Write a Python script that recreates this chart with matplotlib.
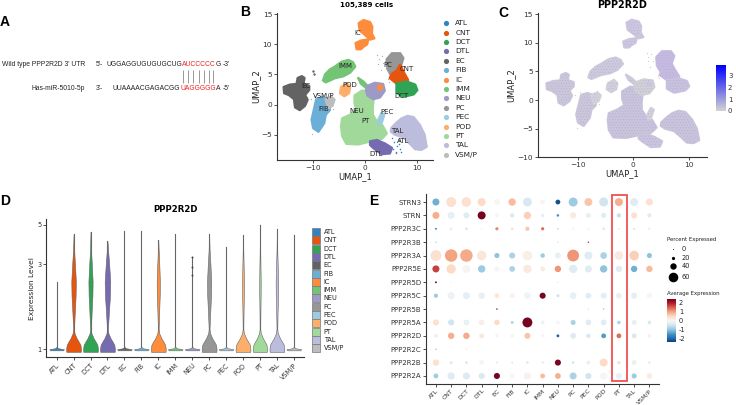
import numpy as np
import matplotlib
matplotlib.use("Agg")
import matplotlib.pyplot as plt
from matplotlib.colors import LinearSegmentedColormap
from matplotlib.patches import Rectangle

W, H = 736, 405
plt.rcParams['hatch.linewidth'] = .25

# Cell types and colours
cell_types = ['ATL', 'CNT', 'DCT', 'DTL', 'EC', 'FIB', 'IC', 'IMM', 'NEU', 'PC', 'PEC', 'POD', 'PT', 'TAL', 'VSM/P']
cell_colors = ['#3182bd', '#e6550d', '#31a354', '#756bb1', '#636363', '#6baed6', '#fd8d3c', '#74c476',
               '#9e9ac8', '#969696', '#9ecae1', '#fdae6b', '#a1d99b', '#bcbddc', '#bdbdbd']

# UMAP cluster outlines
umap_blobs = [
    ('IC', [(-1.2, 13.5), (-.3, 14), (.95, 13.7), (1.4, 12.9), (1.3, 11.8), (1.8, 11), (1, 10.8), (.1, 11.5), (-1, 12.3)]),
    ('IC', [(-1.8, 10.2), (-.8, 10.6), (.6, 10.8), (.4, 10), (-.3, 9.6), (-.8, 9.2), (-1.6, 9.2)]),
    ('EC', [(-15.7, 2.9), (-14.5, 3.3), (-13.2, 3.4), (-13, 4.4), (-12.2, 4.7), (-11.7, 4.4), (-11.9, 3.5), (-10.8, 3.1), (-10.8, 2.4),
            (-11.6, 1.6), (-11.1, .8), (-11.6, -.2), (-12.6, -.9), (-13.5, -.45), (-13.7, .9), (-14.7, 1.6), (-15.6, 1.9)]),
    ('FIB', [(-9.4, .9), (-8.3, 1.2), (-7, .8), (-6.8, -.9), (-7.6, -1.7), (-7.9, -3.1), (-9, -4.5), (-10, -3.9), (-10.3, -2.5), (-9.8, -.6)]),
    ('VSM/P', [(-7.6, .9), (-6.5, 1.3), (-5.9, .8), (-6.3, -.2), (-7.1, -.6), (-7.4, .2)]),
    ('IMM', [(-8.1, 4), (-7.7, 5), (-6.8, 5.8), (-5.8, 6.3), (-4.5, 7.1), (-3.2, 7.4), (-2.3, 7), (-1.9, 6.3), (-2.9, 5.3), (-4.2, 4.7),
             (-5.8, 4.4), (-6.8, 4), (-7.6, 3.7)]),
    ('IMM', [(-1.3, 4.4), (-.3, 3.8), (.6, 3), (.3, 2.7), (-.8, 3.5)]),
    ('POD', [(-4.6, 2.9), (-3.5, 3.5), (-2.9, 2.9), (-3.1, 1.9), (-4, 1.4), (-4.8, 1.9)]),
    ('PT', [(-2, 1.5), (-.6, 2.3), (1, 2.2), (1.7, 1.2), (1.5, -.3), (1.5, -1.7), (2.2, -2.7), (3.4, -3.5), (4.2, -4.8), (3.2, -5.7),
            (1.6, -5.9), (.6, -6.2), (-1.3, -6.6), (-3.6, -6.5), (-4.4, -5.2), (-4.6, -3.5), (-4.4, -2.3), (-2.9, -1.7), (-1.6, -.9), (-2, .2)]),
    ('NEU', [(.5, 3.1), (1.9, 3.6), (3.5, 3.4), (3.8, 2.3), (2.9, 1.2), (1.6, .9), (.5, 1.5), (.2, 2.4)]),
    ('IC', [(2.5, 3.2), (3, 3.2), (3, 2.6), (2.5, 2.6)]),
    ('PC', [(4.2, 7.5), (5.2, 8.5), (6.8, 8.5), (7.4, 7.7), (7, 6.6), (6.5, 4.9), (5, 4.9), (4.3, 6)]),
    ('CNT', [(6.8, 6.6), (7.4, 5.5), (8.3, 4.1), (8.1, 3.5), (6.1, 3.5), (4.8, 4.4), (5.2, 5.1), (6.1, 5.6)]),
    ('DCT', [(6.1, 3.5), (8.1, 3.8), (9.7, 3.3), (10.1, 2.4), (9.4, 1.7), (7.4, 1.3), (6.1, 2)]),
    ('PEC', [(2.6, -2.5), (3.2, -1.4), (3.7, -1.7), (3.2, -3.1), (2.7, -3.4)]),
    ('TAL', [(5.1, -3.9), (6.1, -3), (7.1, -2.3), (8.2, -1.9), (9.4, -2.1), (10.6, -3.4), (11.5, -5), (11.9, -7), (10.9, -7.5), (9.7, -7.4),
             (8.7, -6.5), (7.4, -5.4), (5.8, -5), (5, -4.5)]),
    ('DTL', [(1, -6.1), (2.3, -5.9), (3.9, -6.5), (5.2, -7.2), (4.8, -8.1), (3.2, -8.2), (1.6, -7.2), (1, -6.7)]),
]
atl_x = [5.5, 5.9, 6.8, 6, 5.6, 6.5, 6.2, 5.2, 7, 6.6]
atl_y = [-7.3, -7.9, -7.3, -8, -6.2, -5.8, -6.8, -5.5, -7.8, -6.6]
stray_x = [2.4, 2.7, 3.2, 3.5, 3.9, 4.1, 2.6, 3.1, 4.4, 4.7, -9.6, -9.9, -10.5, -10.2, -6.5, -6.2]
stray_y = [8.3, 7.6, 8, 6.9, 7.2, 6.2, 6.8, 5.8, 4.2, 3.8, 1.4, .3, .9, -4.9, 1.6, -.7]
label_x = [7.3, 8.1, 7, 2.1, -11.5, -7.9, -1.4, -3.7, -1.5, 4.4, 4.3, -2.9, .05, 6.3, -7.9]
label_y = [-6.1, 5.9, 1.5, -8.2, 3, -.7, 11.8, 6.4, -1, 6.5, -1.3, 3.3, -2.7, -4.4, 1.4]

# Panel C shade by cluster
feature_colors = {'IC': '#cdc7de', 'EC': '#cbc7d9', 'FIB': '#cbc7d9', 'VSM/P': '#d4d2d9', 'IMM': '#cdcadb', 'POD': '#d2d0d9',
                  'PT': '#c9c4da', 'NEU': '#d1d0d4', 'PC': '#c4bbde', 'CNT': '#c4bbde', 'DCT': '#c9c2dc', 'PEC': '#d2d0d9',
                  'TAL': '#c9c4da', 'DTL': '#cac4dc'}

# Violin panel
violin_tops = [2.38, 4.42, 4.57, 4.05, 4.63, 4.58, 4.1, 4.45, 3.3, 4.45, 3.75, 4.38, 5.0, 4.75, 4.4]
violin_base = [.43, .44, .44, .44, .43, .43, .44, .43, .43, .44, .43, .44, .42, .44, .43]
violin_body = [0, .13, .12, .16, 0, 0, .09, 0, 0, .12, 0, .05, .04, .07, 0]
wide_levels = [.965, 1.0, 1.058, 1.1, 1.15, 1.23, 1.3, 1.6, 2.0, 2.4, 3.0, 3.6]
wide_base = [.97, 1.0, .92, .7, .42, .12, .03, .01, .01, .01, .01, .01]
wide_body = [0, 0, 0, 0, 0, 0, .08, .5, .9, 1.0, .6, .2]
flat_levels = [.985, 1.0, 1.012, 1.03]
flat_base = [.9, 1.0, .2, .02]
neu_dots = [3.3, 2.9, 2.6]

# Dot plot panel
dot_genes = ['STRN3', 'STRN', 'PPP2R3C', 'PPP2R3B', 'PPP2R3A', 'PPP2R5E', 'PPP2R5D', 'PPP2R5C', 'PPP2R5B', 'PPP2R5A',
             'PPP2R2D', 'PPP2R2C', 'PPP2R2B', 'PPP2R2A']
dot_pct = [
    [44, 62, 60, 50, 36, 46, 56, 30, 30, 56, 50, 56, 50, 50, 44],
    [44, 44, 38, 50, 25, 26, 46, 22, 16, 40, 32, 32, 26, 38, 26],
    [12, 18, 18, 12, 20, 15, 26, 20, 12, 16, 12, 18, 12, 14, 14],
    [8, 8, 5, 5, 4, 4, 4, 4, 5, 4, 9, 5, 8, 4, 4],
    [68, 78, 78, 60, 32, 38, 60, 28, 38, 74, 50, 42, 54, 60, 32],
    [44, 58, 50, 46, 32, 36, 52, 30, 40, 52, 44, 46, 40, 40, 40],
    [12, 8, 8, 5, 4, 5, 5, 4, 5, 5, 4, 5, 5, 4, 4],
    [26, 46, 44, 40, 30, 30, 42, 38, 20, 42, 36, 38, 36, 38, 32],
    [5, 4, 5, 5, 9, 4, 5, 4, 4, 4, 8, 9, 4, 4, 4],
    [38, 38, 36, 36, 34, 18, 62, 24, 24, 32, 36, 36, 22, 32, 22],
    [22, 40, 40, 30, 24, 24, 38, 20, 18, 36, 28, 30, 30, 30, 24],
    [8, 4, 5, 4, 4, 4, 4, 4, 4, 4, 4, 4, 4, 4, 4],
    [40, 20, 16, 30, 12, 12, 16, 16, 38, 16, 24, 50, 22, 30, 16],
    [30, 46, 44, 38, 38, 28, 44, 30, 36, 44, 38, 44, 38, 32, 34],
]
dot_avg = [
    [-1.2, .4, .4, .5, .05, .8, -.4, .05, -2.2, -.9, .7, -.5, .9, -.3, .4],
    [.9, -.2, -.3, 2.4, .05, -.4, .6, -.2, -1.5, .2, -.2, -.3, -.6, .4, -.3],
    [-1.6, -.2, -.4, 0, 1.2, .5, .7, 1.4, -.6, -.05, -.2, -.3, -.2, -.4, .3],
    [-1, 0, 0, 0, 0, 0, 0, 0, -1.2, 0, 2, 0, .2, 0, 0],
    [.4, 1.0, .95, .3, -1, -.8, .15, -.9, -.2, 1.1, -.3, -.8, .25, .6, -1],
    [1.7, .5, .05, -.9, .05, -.8, .25, .2, 1.1, -.3, -.3, -1, -.3, -1.2, .8],
    [2.4, -.2, -.1, 0, 0, 0, 0, 0, -1, 0, 0, 0, 0, 0, 0],
    [-.9, -.15, -.25, -.2, .3, .1, -.1, 2.4, -.5, -.2, -.3, -.25, -.2, -.25, -.05],
    [0, 0, 0, 0, 2.3, 0, 0, 0, 0, 0, .6, -1, 0, 0, 0],
    [.4, -.5, -.2, .15, .5, -.8, 2.4, -.15, -.05, -.8, -.3, -.3, -.8, -.2, -.4],
    [-.2, .9, .95, .3, 0, .05, .7, .05, -2, -.35, -.4, -1.4, 1.4, -.4, .1],
    [1.2, 0, 1, 0, 0, 0, 0, 0, 0, 0, 0, 0, 0, 0, 0],
    [.4, -.3, -.5, .05, -.3, -.4, -.4, -.2, 2.4, -.5, -.2, .5, .4, -.2, -.3],
    [-.9, -.3, -.35, -.4, 2.4, .05, .1, .8, .9, -.8, -.5, .05, -.2, -.9, .2],
]
legend_pct = [0, 20, 40, 60]


def px_axes(l, t, r, b):
    return fig.add_axes([l / W, 1 - b / H, (r - l) / W, (b - t) / H])


def style(ax, size=5.3):
    ax.spines['top'].set_visible(False)
    ax.spines['right'].set_visible(False)
    for s in ['left', 'bottom']:
        ax.spines[s].set_linewidth(.8)
        ax.spines[s].set_color('#333333')
    ax.tick_params(labelsize=size, length=2, width=.6, pad=1.5, colors='#333333')
    ax.patch.set_alpha(0)


def dot_size(pct):
    # diameter grows with percent, about 0.16 px per percent
    return (np.array(pct) * .16 * .72) ** 2


fig = plt.figure(figsize=(W / 100, H / 100), dpi=100)

# overlay in pixel coordinates for panel A, letters and legends
bg = fig.add_axes([0, 0, 1, 1])
bg.set_xlim(0, W)
bg.set_ylim(H, 0)
bg.axis('off')

for txt, x, y in [('A', 0, 22), ('B', 240, 12), ('C', 498, 13), ('D', 0, 201), ('E', 369, 201)]:
    bg.text(x, y, txt, fontsize=10, fontweight='bold', family='Liberation Sans', va='center')

# Panel A
seq_font = dict(fontsize=4.9, family='Liberation Sans', va='center', color='#222222')
bg.text(85, 64, "Wild type PPP2R2D 3' UTR", ha='right', **seq_font)
bg.text(85, 88.7, "Has-miR-5010-5p", ha='right', **seq_font)
bg.text(96, 64, "5'-", **seq_font)
bg.text(96, 88.7, "3'-", **seq_font)
bg.text(182, 64, "UGGAGGUGUGUGCUG", ha='right', **seq_font)
bg.text(180, 88.7, "UUAAAACGAGACGG", ha='right', **seq_font)
seq_font['color'] = '#ee2222'
bg.text(182, 64, "AUCCCCC", **seq_font)
bg.text(180.5, 88.7, "UAGGGGG", **seq_font)
seq_font['color'] = '#222222'
bg.text(215.5, 64, "G", **seq_font)
bg.text(216, 88.7, "A", **seq_font)
bg.text(223, 64, "-3'", **seq_font)
bg.text(223, 88.7, "-5'", **seq_font)
bg.vlines([183.3, 188.3, 193.3, 199.3, 204, 209, 213.3], 70, 82.7, color='#888888', lw=.6)

# Panel B
ax = px_axes(277, 13, 433.3, 160)
for name, pts in umap_blobs:
    xy = np.array(pts)
    c = cell_colors[cell_types.index(name)]
    ax.fill(xy[:, 0], xy[:, 1], color=c, lw=1.8, joinstyle='round')
ax.scatter(atl_x, atl_y, s=1.2, color=cell_colors[0], lw=0)
ax.scatter(stray_x, stray_y, s=.8, color='#aaaaaa', lw=0)
ax.scatter([-10.1, -9.9], [5.5, 5.1], s=3, color=cell_colors[4], lw=0)
for t, x, y in zip(cell_types, label_x, label_y):
    ax.text(x, y, t, fontsize=5, ha='center', va='center', color='#222222')
ax.set_xlim(-17, 13.2)
ax.set_ylim(-9.2, 15.2)
ax.set_xticks([-10, 0, 10])
ax.set_yticks([-5, 0, 5, 10, 15])
style(ax)
ax.set_xlabel('UMAP_1', fontsize=6, labelpad=1, color='#222222')
ax.set_ylabel('UMAP_2', fontsize=6, labelpad=1, color='#222222')
bg.text(366.7, 5, '105,389 cells', fontsize=5.1, fontweight='bold', ha='center', va='center')

row_gap = (154.7 - 23.3) / 14
for i, t in enumerate(cell_types):
    bg.scatter(446.3, 23.3 + i * row_gap, s=14, color=cell_colors[i], lw=0)
    bg.text(455.3, 23.3 + i * row_gap, t, fontsize=5.3, va='center', color='#222222')

# Panel C
ax = px_axes(537.7, 13, 707.3, 157.3)
for name, pts in umap_blobs:
    xy = np.array(pts)
    ax.fill(xy[:, 0], xy[:, 1], color=feature_colors[name], lw=1.8, joinstyle='round')
    ax.fill(xy[:, 0], xy[:, 1], facecolor='none', edgecolor='#b3a8e4', lw=0, hatch='......')
ax.scatter(stray_x, stray_y, s=.8, color='#cccccc', lw=0)
ax.set_xlim(-17.3, 13.4)
ax.set_ylim(-10, 15.2)
ax.set_xticks([-10, 0, 10])
ax.set_yticks([-10, -5, 0, 5, 10, 15])
style(ax)
ax.set_xlabel('UMAP_1', fontsize=6, labelpad=1, color='#222222')
ax.set_ylabel('UMAP_2', fontsize=6, labelpad=1, color='#222222')
bg.text(622, 5, 'PPP2R2D', fontsize=6.9, fontweight='bold', ha='center', va='center')

cax = px_axes(715.7, 65, 725, 110.7)
feature_cmap = LinearSegmentedColormap.from_list('feat', ['#d3d3d3', '#0000ff'])
cax.imshow(np.linspace(3.9, 0, 100)[:, None], aspect='auto', cmap=feature_cmap, extent=[0, 1, 0, 3.9])
cax.axis('off')
for v, y in zip([3, 2, 1, 0], [76, 88, 99.5, 111]):
    bg.text(728, y, str(v), fontsize=5, va='center', color='#333333')

# Panel D
ax = px_axes(46.3, 219, 304, 357.3)
for i, t in enumerate(cell_types):
    c = cell_colors[i]
    if violin_body[i] > 0:
        lev = np.array(wide_levels + [violin_tops[i]])
        hw = violin_base[i] * np.array(wide_base + [0]) + violin_body[i] * np.array(wide_body + [0])
    else:
        lev = np.array(flat_levels)
        hw = violin_base[i] * np.array(flat_base)
    ax.plot([i, i], [1, violin_tops[i]], color='#666666', lw=.8, zorder=1)
    ax.fill_betweenx(lev, i - hw, i + hw, facecolor=c, edgecolor='#666666', lw=.4, zorder=2)
ax.scatter([8, 8, 8], neu_dots, s=2, color='#444444', lw=0, zorder=3)
ax.set_yscale('log')
ax.set_ylim(.9, 5.38)
ax.set_xlim(-.61, 14.6)
ax.set_yticks([1, 3, 5])
ax.set_yticklabels(['1', '3', '5'])
ax.minorticks_off()
ax.set_xticks(range(15))
ax.set_xticklabels(cell_types, rotation=45, ha='right', rotation_mode='anchor')
style(ax, 4.7)
ax.set_ylabel('Expression Level', fontsize=5.4, labelpad=2, color='#222222')
bg.text(175, 210, 'PPP2R2D', fontsize=6.2, fontweight='bold', ha='center', va='center')

row_gap = (348.3 - 232) / 14
for i, t in enumerate(cell_types):
    bg.add_patch(Rectangle((312, 232 + i * row_gap - 4), 8, 8, facecolor=cell_colors[i], edgecolor='#777777', lw=.5))
    bg.text(323.7, 232 + i * row_gap, t, fontsize=4.7, va='center', color='#222222')

# Panel E
ax = px_axes(426.3, 194, 659.3, 384)
xs, ys = np.meshgrid(range(15), range(14))
dots = ax.scatter(xs.ravel(), ys.ravel(), s=dot_size(dot_pct).ravel(), c=np.array(dot_avg).ravel(),
                  cmap='RdBu_r', vmin=-2.5, vmax=2.5, lw=0)
ax.add_patch(Rectangle((11.58, -.55), .93, 13.95, fill=False, edgecolor='#f24f52', lw=1.3, clip_on=False))
ax.set_xlim(-.63, 14.65)
ax.set_ylim(13.6, -.6)
ax.set_xticks(range(15))
ax.set_xticklabels(cell_types, rotation=45, ha='right', rotation_mode='anchor')
ax.set_yticks(range(14))
ax.set_yticklabels(dot_genes)
style(ax, 5)
ax.tick_params(axis='x', labelsize=4.4, pad=1)

bg.text(667.3, 239.3, 'Percent Expressed', fontsize=3.9, va='center', color='#222222')
for p, y in zip(legend_pct, [249.3, 258.3, 266.3, 277]):
    bg.scatter(673.3, y, s=max(dot_size(p), .3), color='black', lw=0)
    bg.text(682, y, str(p), fontsize=4.8, va='center', color='#222222')

bg.text(667.3, 293, 'Average Expression', fontsize=3.9, va='center', color='#222222')
lax = px_axes(667.3, 299, 675.7, 341.7)
lax.imshow(np.linspace(2.4, -2.33, 100)[:, None], aspect='auto', cmap='RdBu_r', vmin=-2.5, vmax=2.5)
lax.axis('off')
for v, y in zip(['2', '1', '0', '-1', '-2'], [302.7, 312, 320.7, 329.7, 338.7]):
    bg.text(679, y, v, fontsize=4.8, va='center', color='#222222')

fig.savefig('out.png', dpi=100)
